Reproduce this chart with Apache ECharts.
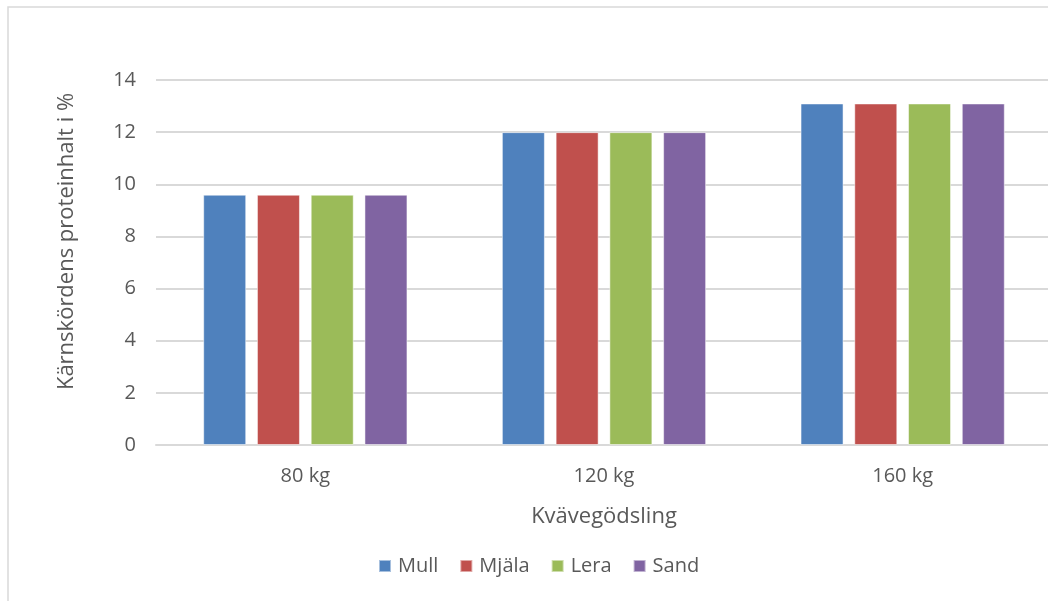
<!DOCTYPE html>
<html>
<head>
<meta charset="utf-8">
<script src="https://cdn.jsdelivr.net/npm/echarts@6/dist/echarts.min.js"></script>
<style>
  html, body { margin: 0; padding: 0; background: #fff; overflow: hidden; }
  #chart { width: 1060px; height: 601px; }
</style>
</head>
<body>
<div id="chart"></div>
<script>
// Kväve doses along the x axis
const categories = ['80 kg', '120 kg', '160 kg'];
// Protein content of the grain (%) per soil type
const mull  = [9.6, 12.0, 13.1];
const mjala = [9.6, 12.0, 13.1];
const lera  = [9.6, 12.0, 13.1];
const sand  = [9.6, 12.0, 13.1];
const seriesNames = ['Mull', 'Mjäla', 'Lera', 'Sand'];
const colors = ['#4F81BD', '#C0504D', '#9BBB59', '#8064A2'];
const yTicks = { min: 0, max: 14, interval: 2 };

const font = 'Open Sans, Liberation Sans, sans-serif';
const textColor = '#595959';
const seriesData = [mull, mjala, lera, sand];

const chart = echarts.init(document.getElementById('chart'));
chart.setOption({
  animation: false,
  backgroundColor: '#fff',
  graphic: [{
    type: 'rect',
    shape: { x: 8, y: 7, width: 1100, height: 700 },
    style: { fill: 'none', stroke: '#d9d9d9', lineWidth: 1.5 },
    z: -1
  }],
  grid: { left: 156, top: 80, width: 896, height: 365, containLabel: false },
  legend: {
    top: 551,
    left: 373,
    itemWidth: 12,
    itemHeight: 12,
    itemGap: 21,
    icon: 'rect',
    textStyle: { fontFamily: font, fontSize: 20, color: textColor, padding: [0, 0, 0, 2] },
    data: seriesNames
  },
  xAxis: {
    type: 'category',
    data: categories,
    name: 'Kvävegödsling',
    nameLocation: 'middle',
    nameGap: 61,
    nameTextStyle: { fontFamily: font, fontSize: 22, color: textColor },
    axisLine: { lineStyle: { color: '#d9d9d9', width: 2 } },
    axisTick: { show: false },
    axisLabel: { fontFamily: font, fontSize: 20, color: textColor, margin: 21 }
  },
  yAxis: {
    type: 'value',
    min: yTicks.min,
    max: yTicks.max,
    interval: yTicks.interval,
    name: 'Kärnskördens proteinhalt i %',
    nameLocation: 'middle',
    nameGap: 78,
    nameTextStyle: { fontFamily: font, fontSize: 22, color: textColor, padding: [0, 0, 0, 42] },
    axisLine: { show: false },
    axisTick: { show: false },
    axisLabel: { fontFamily: font, fontSize: 20, color: textColor, margin: 20 },
    splitLine: { lineStyle: { color: '#d9d9d9', width: 2 } }
  },
  series: seriesNames.map((name, i) => ({
    name: name,
    type: 'bar',
    data: seriesData[i],
    barWidth: 43,
    barGap: '25%',
    barCategoryGap: '31%',
    itemStyle: { color: colors[i], borderColor: 'rgba(255,255,255,0.5)', borderWidth: 1 }
  }))
});
</script>
</body>
</html>
